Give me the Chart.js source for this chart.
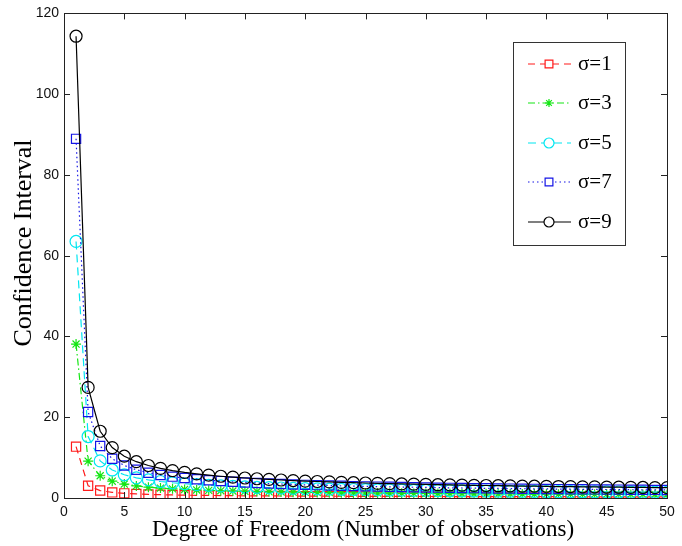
<!DOCTYPE html>
<html>
<head>
<meta charset="utf-8">
<script src="https://cdn.jsdelivr.net/npm/chart.js@4.4.1/dist/chart.umd.min.js"></script>
<style>
  html, body { margin: 0; padding: 0; background: #fff; }
  #wrap { width: 682px; height: 546px; }
</style>
</head>
<body>
<div id="wrap"><canvas id="chart" width="682" height="546"></canvas></div>
<script>
// degree of freedom (x)
const dof = [1,2,3,4,5,6,7,8,9,10,11,12,13,14,15,16,17,18,19,20,21,22,23,24,25,
  26,27,28,29,30,31,32,33,34,35,36,37,38,39,40,41,42,43,44,45,46,47,48,49,50]

const sigma1 = [12.71,3.04,1.84,1.39,1.15,1.00,0.89,0.82,0.75,0.70,0.66,0.63,0.60,0.57,0.55,
  0.53,0.51,0.50,0.48,0.47,0.45,0.44,0.43,0.42,0.41,0.40,0.40,0.39,0.38,0.37,0.37,0.36,0.35,
  0.35,0.34,0.34,0.33,0.33,0.32,0.32,0.32,0.31,0.31,0.30,0.30,0.30,0.29,0.29,0.29,0.28]
const sigma3 = [38.12,9.13,5.51,4.16,3.45,3.00,2.68,2.45,2.26,2.12,1.99,1.89,1.80,1.72,1.65,
  1.59,1.54,1.49,1.44,1.40,1.36,1.33,1.29,1.26,1.24,1.21,1.19,1.16,1.14,1.12,1.10,1.08,1.06,
  1.04,1.03,1.01,1.00,0.98,0.97,0.96,0.95,0.93,0.92,0.91,0.90,0.89,0.88,0.87,0.86,0.85]
const sigma5 = [63.53,15.22,9.19,6.94,5.75,5.00,4.47,4.08,3.77,3.53,3.32,3.15,3.00,2.87,2.75,
  2.65,2.56,2.48,2.40,2.33,2.27,2.21,2.16,2.11,2.06,2.02,1.98,1.94,1.90,1.87,1.83,1.80,1.77,
  1.74,1.72,1.69,1.67,1.64,1.62,1.60,1.58,1.56,1.54,1.52,1.50,1.49,1.47,1.45,1.44,1.42]
const sigma7 = [88.94,21.30,12.86,9.72,8.05,6.99,6.26,5.71,5.28,4.94,4.65,4.40,4.19,4.01,3.85,
  3.71,3.58,3.47,3.36,3.26,3.18,3.09,3.02,2.95,2.88,2.82,2.77,2.71,2.66,2.61,2.56,2.52,2.48,
  2.44,2.40,2.37,2.33,2.30,2.27,2.24,2.21,2.18,2.16,2.13,2.10,2.08,2.05,2.03,2.01,1.99]
const sigma9 = [114.35,27.39,16.53,12.49,10.35,8.99,8.05,7.34,6.79,6.34,5.98,5.66,5.39,5.16,4.95,
  4.77,4.61,4.46,4.32,4.19,4.09,3.98,3.88,3.79,3.71,3.63,3.56,3.48,3.42,3.36,3.29,3.24,3.19,
  3.13,3.09,3.04,3.00,2.95,2.92,2.88,2.84,2.80,2.77,2.74,2.70,2.67,2.64,2.61,2.58,2.56]

const seriesNames = ['σ=1', 'σ=3', 'σ=5', 'σ=7', 'σ=9']
const xTicks = [0, 5, 10, 15, 20, 25, 30, 35, 40, 45, 50]
const yTicks = [0, 20, 40, 60, 80, 100, 120]

const SANS = '"Liberation Sans", Arial, sans-serif'
const SERIF = '"Liberation Serif", "Times New Roman", serif'

const styles = [
  { color: '#ff1a1a', dash: [7, 5], point: 'rect', radius: 6.5 },
  { color: '#14e614', dash: [7, 3, 1.5, 3], point: 'star', radius: 5 },
  { color: '#00e6f0', dash: [8, 5], point: 'circle', radius: 6 },
  { color: '#1414e6', dash: [1.5, 3], point: 'rect', radius: 6.5 },
  { color: '#000000', dash: [], point: 'circle', radius: 6 },
]

const seriesValues = [sigma1, sigma3, sigma5, sigma7, sigma9]

const datasets = seriesValues.map((vals, i) => ({
  label: seriesNames[i],
  data: dof.map((d, k) => ({ x: d, y: vals[k] })),
  borderColor: styles[i].color,
  borderDash: styles[i].dash,
  borderWidth: 1.2,
  pointStyle: styles[i].point,
  pointRadius: styles[i].radius,
  pointBorderColor: styles[i].color,
  pointBackgroundColor: 'rgba(0,0,0,0)',
  pointBorderWidth: 1.2,
  tension: 0,
  fill: false,
  order: 4 - i,
}))

// frame, inward ticks, axis titles and legend box
const matlabLook = {
  id: 'matlabLook',
  afterDraw(chart) {
    const { ctx, chartArea: a, scales } = chart
    ctx.save()
    ctx.strokeStyle = '#222'
    ctx.lineWidth = 1
    ctx.setLineDash([])
    ctx.strokeRect(Math.round(a.left) + 0.5, Math.round(a.top) + 0.5,
      Math.round(a.right - a.left), Math.round(a.bottom - a.top))
    const tl = 6
    ctx.beginPath()
    xTicks.forEach((v) => {
      const px = Math.round(scales.x.getPixelForValue(v)) + 0.5
      ctx.moveTo(px, a.bottom); ctx.lineTo(px, a.bottom - tl)
      ctx.moveTo(px, a.top); ctx.lineTo(px, a.top + tl)
    })
    yTicks.forEach((v) => {
      const py = Math.round(scales.y.getPixelForValue(v)) + 0.5
      ctx.moveTo(a.left, py); ctx.lineTo(a.left + tl, py)
      ctx.moveTo(a.right, py); ctx.lineTo(a.right - tl, py)
    })
    ctx.stroke()

    // axis titles
    ctx.fillStyle = '#000'
    ctx.font = `23px ${SERIF}`
    ctx.textAlign = 'center'
    ctx.textBaseline = 'middle'
    ctx.fillText('Degree of Freedom (Number of observations)', 363, 530)
    ctx.save()
    ctx.translate(24, 243)
    ctx.rotate(-Math.PI / 2)
    ctx.font = `26px ${SERIF}`
    ctx.fillText('Confidence Interval', 0, 0)
    ctx.restore()

    // legend
    const box = { x: 513, y: 42, w: 112, h: 203 }
    ctx.fillStyle = '#fff'
    ctx.fillRect(box.x, box.y, box.w, box.h)
    ctx.strokeStyle = '#333'
    ctx.strokeRect(box.x + 0.5, box.y + 0.5, box.w, box.h)
    const rowY = [64, 103, 143, 182, 222]
    datasets.forEach((ds, i) => {
      const y = rowY[i]
      ctx.strokeStyle = ds.borderColor
      ctx.lineWidth = ds.borderWidth
      ctx.setLineDash(ds.borderDash)
      ctx.beginPath()
      ctx.moveTo(528, y); ctx.lineTo(571, y)
      ctx.stroke()
      ctx.setLineDash([])
      ctx.fillStyle = '#fff'
      ctx.strokeStyle = ds.borderColor
      ctx.lineWidth = ds.pointBorderWidth
      Chart.helpers.drawPoint(ctx, {
        pointStyle: ds.pointStyle,
        radius: ds.pointRadius - 1,
        borderWidth: ds.pointBorderWidth,
      }, 549, y)
      ctx.fillStyle = '#000'
      ctx.font = `21px ${SERIF}`
      ctx.textAlign = 'left'
      ctx.fillText(ds.label, 578, y)
    })
    ctx.restore()
  },
}

new Chart(document.getElementById('chart').getContext('2d'), {
  type: 'line',
  data: { datasets },
  options: {
    responsive: false,
    animation: false,
    devicePixelRatio: 1,
    layout: { padding: { top: 11, right: 15, left: 0, bottom: 0 } },
    plugins: { legend: { display: false }, tooltip: { enabled: false } },
    scales: {
      x: {
        type: 'linear',
        min: 0,
        max: 50,
        afterBuildTicks: (s) => { s.ticks = xTicks.map((v) => ({ value: v })) },
        afterFit: (s) => { s.height = 48 },
        grid: { display: false, drawTicks: false },
        border: { display: false },
        ticks: { color: '#111', padding: 6, maxRotation: 0, font: { family: SANS, size: 14 } },
      },
      y: {
        type: 'linear',
        min: 0,
        max: 120,
        afterBuildTicks: (s) => { s.ticks = yTicks.map((v) => ({ value: v })) },
        afterFit: (s) => { s.width = 64 },
        grid: { display: false, drawTicks: false },
        border: { display: false },
        ticks: { color: '#111', padding: 5, font: { family: SANS, size: 14 } },
      },
    },
  },
  plugins: [matlabLook],
})
</script>
</body>
</html>
